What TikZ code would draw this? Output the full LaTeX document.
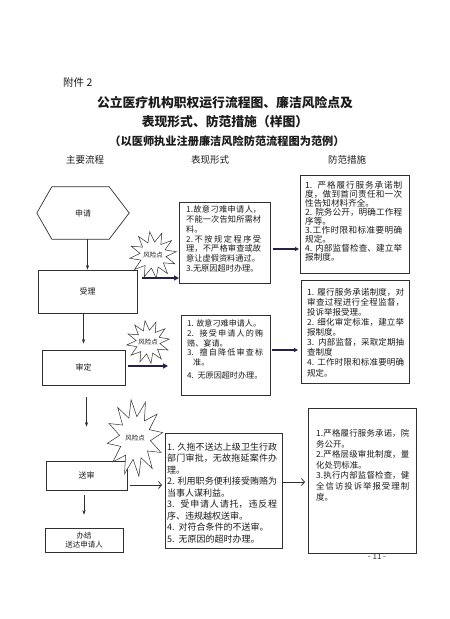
\documentclass[tikz,border=0pt]{standalone}
\usepackage{fontspec}
\setmainfont{Noto Sans CJK SC}
\usetikzlibrary{arrows.meta,shapes.geometric,calc}
\XeTeXlinebreaklocale "zh"
\XeTeXlinebreakskip=0pt plus 1pt
\definecolor{linec}{HTML}{303030}
\definecolor{textc}{HTML}{1c1c1c}
\definecolor{heavyc}{HTML}{2a1f45}
\newcommand\fsz[2]{\fontsize{#1}{#2}\selectfont}
\begin{document}
\begin{tikzpicture}[x=1pt,y=-1pt,
  every node/.style={text=textc},
  frame/.style={draw=linec, line width=0.7pt, inner sep=0pt, font=\fsz{8}{9.5}},
  thickframe/.style={frame, line width=1.1pt},
  body/.style={anchor=north west, inner sep=0pt, align=justify},
  flow/.style={draw=linec, line width=0.6pt, -{Stealth[length=4.5pt,width=3.2pt]}},
  heavy/.style={draw=heavyc, line width=2pt, -{Triangle[length=5pt,width=5pt]}},
  med/.style={draw=heavyc, line width=1.4pt, -{Triangle[length=4pt,width=4pt]}},
  barb/.style={draw=linec, line width=0.8pt, -{Straight Barb[length=3pt,width=7pt]}},
  risk/.style={star, star points=12, star point ratio=1.8, draw=linec, line width=0.5pt, inner sep=0pt, fill=white, shape border rotate=8},
  risktext/.style={font=\fsz{6.5}{7}, inner sep=0pt},
  head/.style={font=\fsz{9.5}{10}, inner sep=0pt}
]
\fill[white] (0,0) rectangle (450,619);
\useasboundingbox (0,0) rectangle (450,619);

% titles
\node[anchor=west, font=\fsz{10.5}{11}, inner sep=0pt] (att) at (63,83) {附件 2};
\node[font=\fsz{12.8}{13}\bfseries, inner sep=0pt] (ttl1) at (225,103) {公立医疗机构职权运行流程图、廉洁风险点及};
\node[font=\fsz{12.8}{13}\bfseries, inner sep=0pt] (ttl2) at (225,122) {表现形式、防范措施（样图）};
\node[font=\fsz{11.2}{12}\bfseries, inner sep=0pt] (ttl3) at (227,141) {（以医师执业注册廉洁风险防范流程图为范例）};
\node[head] (h1) at (85,160) {主要流程};
\node[head] (h2) at (210,160) {表现形式};
\node[head] (h3) at (347,160) {防范措施};

% main flow
\node[minimum width=92pt, minimum height=52pt, inner sep=0pt, font=\fsz{8}{9}] (apply) at (83,213) {申请};
\draw[draw=linec, line width=0.7pt] (apply.west) -- ([xshift=15pt]apply.north west) -- ([xshift=-20pt]apply.north east) -- (apply.east) -- ([xshift=-20pt]apply.south east) -- ([xshift=15pt]apply.south west) -- cycle;
\node[frame, minimum width=99pt, minimum height=43pt] (accept) at (87.5,291.5) {受理};
\node[frame, minimum width=83pt, minimum height=35pt] (review) at (83.5,367.5) {审定};
\node[frame, minimum width=81pt, minimum height=29pt] (send) at (86.5,475.5) {送审};
\node[frame, minimum width=78pt, minimum height=24pt, align=center, font=\fsz{7.5}{9.5}] (done) at (84,540) {办结\\送达申请人};

\draw[flow] (apply.south -| accept.north) -- (accept.north);
\draw[flow, shorten >=6pt] (accept.south -| review.north) -- (review.north);
\draw[flow, shorten <=12pt, shorten >=34pt] (review.south -| send.north) -- (send.north);
\draw[flow, shorten <=5pt, shorten >=13pt] (send.south -| done.north) -- (done.north);

% middle column frames
\node[frame, anchor=north west, minimum width=91pt, minimum height=81pt] (m1) at (179,202) {};
\node[frame, anchor=north west, minimum width=89pt, minimum height=80pt] (m2) at (181,315) {};
\node[thickframe, anchor=north west, minimum width=117pt, minimum height=115pt] (m3) at (165,433) {};
% right column frames
\node[frame, anchor=north west, minimum width=109pt, minimum height=98pt] (r1) at (300,175) {};
\node[frame, anchor=north west, minimum width=108pt, minimum height=103pt] (r2) at (301,280) {};
\node[thickframe, anchor=north west, minimum width=108pt, minimum height=145pt] (r3) at (308,408) {};

% middle texts
\node[body, text width=75pt, font=\fsz{8.2}{9.8}] (t1) at (186,205.6) {1.故意刁难申请人，\linebreak 不能一次告知所需材\linebreak 料。\\ 2.不按规定程序受\linebreak 理，不严格审查或故\linebreak 意让虚假资料通过。\\ 3.无原因超时办理。};
\node[body, text width=76pt, font=\fsz{8.1}{9.7}] (t2) at (187,319.7) {1. 故意刁难申请人。\\ 2. 接受申请人的贿\linebreak 赂、宴请。\\ 3. 擅自降低审查标\linebreak \hspace*{6pt}准。\\[3pt] 4.\ \ 无原因超时办理。};
\node[body, text width=110pt, font=\fsz{9}{11.5}] (t3) at (167,442.6) {1. 久拖不送达上级卫生行政\linebreak 部门审批，无故拖延案件办\linebreak 理。\\ 2. 利用职务便利接受贿赂为\linebreak 当事人谋利益。\\ 3.\ \ 受申请人请托，违反程\linebreak 序、违规越权送审。\\ 4.\ \ 对符合条件的不送审。\\ 5.\ \ 无原因的超时办理。};

% right texts
\node[body, text width=97pt, font=\fsz{8.6}{9}] (u1) at (305,181.1) {1. 严格履行服务承诺制\linebreak 度，做到首问责任和一次\linebreak 性告知材料齐全。\\ 2. 院务公开，明确工作程\linebreak 序等。\\ 3.工作时限和标准要明确\linebreak 规定。\\ 4. 内部监督检查、建立举\linebreak 报制度。};
\node[body, text width=97pt, font=\fsz{8.5}{10.1}] (u2) at (307,287.9) {1. 履行服务承诺制度，对\linebreak 审查过程进行全程监督，\linebreak 投诉举报受理。\\ 2. 细化审定标准，建立举\linebreak 报制度。\\ 3.\ \ 内部监督，采取定期抽\linebreak 查制度\\ 4. 工作时限和标准要明确\linebreak 规定。};
\node[body, text width=93pt, font=\fsz{8.4}{10.6}] (u3) at (316,429.2) {1.严格履行服务承诺，院\linebreak 务公开。\\ 2.严格层级审批制度，量\linebreak 化处罚标准。\\ 3.执行内部监督检查，健\linebreak 全信访投诉举报受理制\linebreak 度。};

% risk points
\node[risk, minimum size=47pt] (s1) at (153,255) {};
\node[risktext] at (s1) {风险点};
\node[risk, minimum size=43pt] (s2) at (148,342) {};
\node[risktext] at (s2) {风险点};
\node[risk, minimum size=56pt, yscale=1.38] (s3) at (135,438) {};
\node[risktext] at (s3) {风险点};

% connectors to columns
\coordinate (c1) at (138,278);
\draw[heavy, shorten <=4pt] (c1) -- (c1 -| m1.west);
\coordinate (c2) at (125,366);
\draw[heavy, shorten <=3pt, shorten >=13pt] (c2) -- (c2 -| m2.west);
\coordinate (c3) at (270,249);
\draw[med, shorten <=3pt, shorten >=1pt] (c3) -- (c3 -| r1.west);
\coordinate (c4) at (270,350);
\draw[med, shorten <=2pt, shorten >=3pt] (c4) -- (c4 -| r2.west);
\coordinate (c5) at (127,485);
\draw[barb, shorten <=3pt, shorten >=3pt] (c5) -- (c5 -| m3.west);
\coordinate (c6) at (282,482);
\draw[barb, shorten >=3pt] (c6) -- (c6 -| r3.west);

\node[font=\fsz{8}{9}, text=linec, inner sep=0pt] (pg) at (377,557) {- 11 -};
\end{tikzpicture}
\end{document}
